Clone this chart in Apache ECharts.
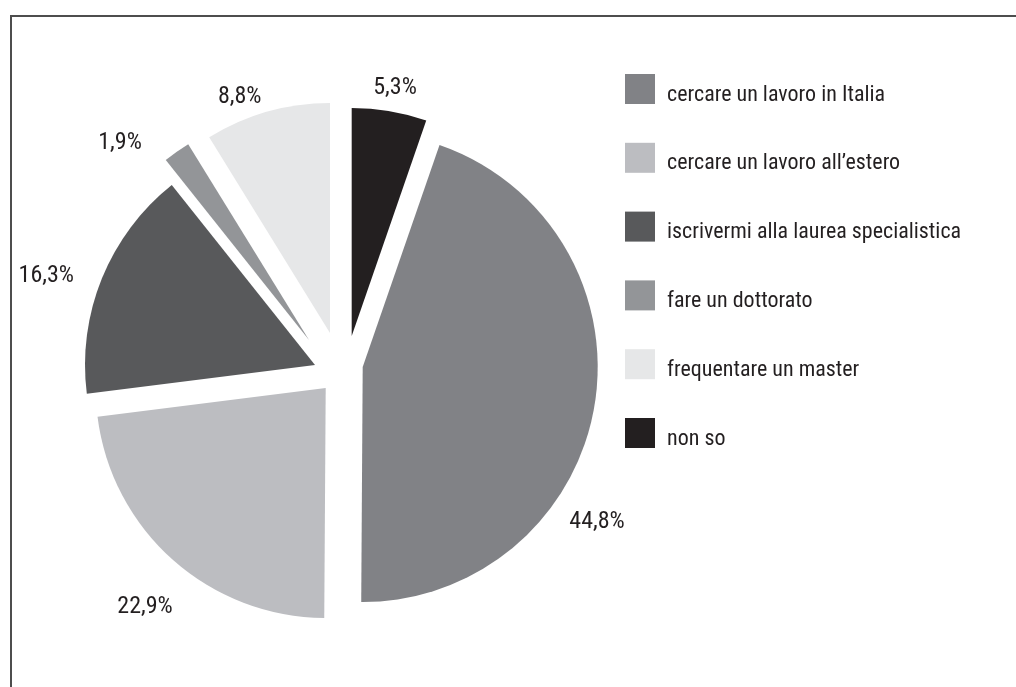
<!DOCTYPE html>
<html>
<head>
<meta charset="utf-8">
<script src="https://cdn.jsdelivr.net/npm/echarts@6/dist/echarts.min.js"></script>
<style>
  html, body { margin: 0; padding: 0; background: #ffffff; }
  #chart { width: 1016px; height: 687px; }
</style>
</head>
<body>
<div id="chart"></div>
<script>
// Slices in drawing order, clockwise from 12 o'clock
const sliceNames = [
  'non so',
  'cercare un lavoro in Italia',
  'cercare un lavoro all’estero',
  'iscrivermi alla laurea specialistica',
  'fare un dottorato',
  'frequentare un master'
];
const sliceValues = [5.3, 44.8, 22.9, 16.3, 1.9, 8.8];

// Legend order
const legendNames = [
  'cercare un lavoro in Italia',
  'cercare un lavoro all’estero',
  'iscrivermi alla laurea specialistica',
  'fare un dottorato',
  'frequentare un master',
  'non so'
];

// Grey shades per answer
const colorByName = {
  'cercare un lavoro in Italia': '#818286',
  'cercare un lavoro all’estero': '#bcbdc1',
  'iscrivermi alla laurea specialistica': '#58595b',
  'fare un dottorato': '#939598',
  'frequentare un master': '#e6e7e8',
  'non so': '#231f20'
};

// Exploded layout: each wedge has its own apex, plus its label's
// direction (degrees clockwise from 12 o'clock) and distance from that apex
const wedgeApex = [[351.7, 336], [362.7, 367], [325.7, 388], [315, 365], [309, 340], [330, 333]];
const wedgeRadius = [228, 235, 230, 230, 230, 230];
const labelPlacement = [[9.9, 252], [123.5, 281], [219.5, 284], [288.3, 283], [316.2, 273], [339.1, 253]];

const FONT = '"Noto Sans Condensed", "Roboto Condensed", "DejaVu Sans Condensed", sans-serif';
const INK = '#231f20';

const fmtPct = v => v.toFixed(1).replace('.', ',') + '%';

const series = sliceNames.map((own, i) => ({
  type: 'pie',
  silent: true,
  animation: false,
  center: wedgeApex[i],
  radius: [0, wedgeRadius[i]],
  startAngle: 90,
  clockwise: true,
  avoidLabelOverlap: false,
  label: {
    position: 'outside',
    formatter: p => fmtPct(p.value),
    fontFamily: FONT,
    fontSize: 24,
    color: INK
  },
  labelLine: { show: false, length: 0, length2: 0 },
  labelLayout: () => {
    const a = labelPlacement[i][0] * Math.PI / 180;
    const d = labelPlacement[i][1];
    return {
      x: wedgeApex[i][0] + d * Math.sin(a),
      y: wedgeApex[i][1] - d * Math.cos(a),
      align: 'center',
      verticalAlign: 'middle'
    };
  },
  data: sliceNames.map((name, j) => ({
    name,
    value: sliceValues[j],
    itemStyle: { color: j === i ? colorByName[name] : 'rgba(0,0,0,0)' },
    label: { show: j === i }
  }))
}));

const chart = echarts.init(document.getElementById('chart'), null, { renderer: 'canvas' });
chart.setOption({
  backgroundColor: '#ffffff',
  animation: false,
  legend: {
    orient: 'vertical',
    left: 625,
    top: 72,
    padding: 0,
    itemWidth: 30,
    itemHeight: 30,
    itemGap: 34.8,
    icon: 'rect',
    selectedMode: false,
    formatter: name => '{t|' + name + '}',
    textStyle: {
      fontFamily: FONT,
      fontSize: 22,
      color: INK,
      rich: {
        t: {
          fontFamily: FONT,
          fontSize: 22,
          lineHeight: 22,
          color: INK,
          padding: [12, 0, 0, 7]
        }
      }
    },
    data: legendNames.map(name => ({
      name,
      itemStyle: { color: colorByName[name] }
    }))
  },
  graphic: [{
    type: 'polyline',
    silent: true,
    shape: { points: [[11, 687], [11, 16], [1016, 16]] },
    style: { stroke: '#4d4d4d', lineWidth: 2, fill: null }
  }],
  series
});
</script>
</body>
</html>
